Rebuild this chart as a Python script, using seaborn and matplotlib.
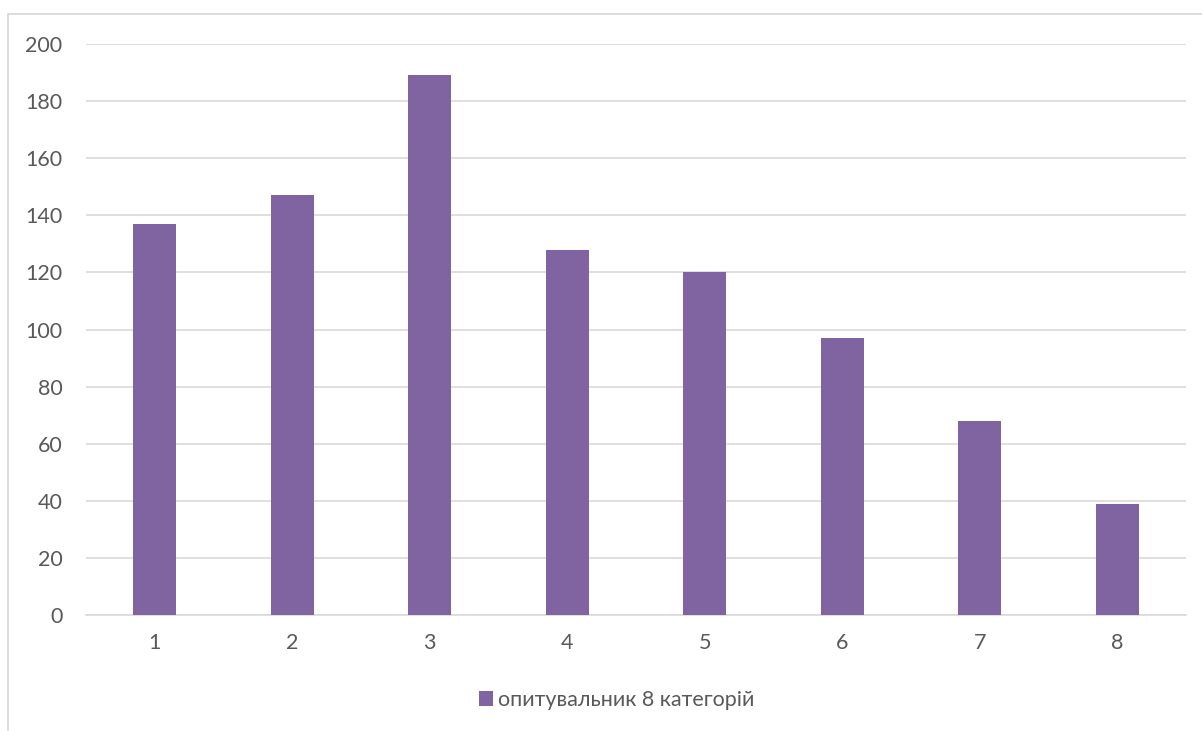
import matplotlib
matplotlib.use("Agg")
import matplotlib.pyplot as plt
import seaborn as sns
import pandas as pd
from matplotlib.patches import Rectangle

categories = ["1", "2", "3", "4", "5", "6", "7", "8"]
values = [137, 147, 189, 128, 120, 97, 68, 39]
series_name = "опитувальник 8 категорій"
y_ticks = [0, 20, 40, 60, 80, 100, 120, 140, 160, 180, 200]

df = pd.DataFrame({"cat": categories, "val": values, "series": series_name})

sns.set_theme(style="white")
plt.rcParams['font.family'] = ['Lato', 'DejaVu Sans']

W, H = 1202, 731
fig = plt.figure(figsize=(W / 100, H / 100), dpi=100)
fig.patch.set_facecolor("white")

# outer chart border (light gray)
fig.add_artist(Rectangle((8 / W, -0.1), 1.2, (731 - 14) / H + 0.1, transform=fig.transFigure,
                         fill=False, edgecolor="#D9D9D9", linewidth=1.3))

ax = fig.add_axes([86 / W, (H - 615) / H, 1100 / W, 571 / H])
purple = "#8064A2"
sns.barplot(data=df, x="cat", y="val", hue="series", palette=[purple], width=0.313,
            saturation=1, linewidth=0, ax=ax, zorder=3, legend=True)

ax.set_ylim(0, 200)
ax.set_xlim(-0.5, 7.5)
ax.set_yticks(y_ticks)
ax.yaxis.grid(True, color="#D9D9D9", linewidth=1.2, zorder=0)
ax.set_axisbelow(True)
for s in ["top", "right", "left"]:
    ax.spines[s].set_visible(False)
ax.spines["bottom"].set_color("#D9D9D9")
ax.spines["bottom"].set_linewidth(1.2)
ax.tick_params(axis="both", length=0, labelsize=15.5, labelcolor="#595959")
ax.tick_params(axis="y", pad=17)
ax.tick_params(axis="x", pad=13)
ax.set_xlabel("")
ax.set_ylabel("")
for lbl in ax.get_yticklabels():
    lbl.set_horizontalalignment("right")

leg = ax.get_legend()
if leg is not None:
    leg.remove()
handles, labels = ax.get_legend_handles_labels()
fig.legend(handles, labels, loc="center", bbox_to_anchor=(617 / W, 1 - 700 / H),
           frameon=False, fontsize=15.5, labelcolor="#595959",
           handlelength=0.65, handleheight=0.65, handletextpad=0.25)

fig.savefig("out.png", dpi=100, facecolor="white")
